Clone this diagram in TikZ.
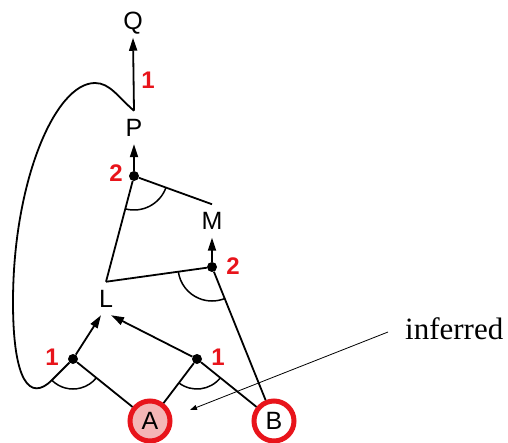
\documentclass[tikz,border=0pt]{standalone}
\usepackage{fontspec}
\setmainfont{Liberation Sans}
\newfontfamily\serifface{Liberation Serif}
\usepackage{tikz}
\usetikzlibrary{calc,arrows.meta}
\definecolor{hotred}{HTML}{E8141B}
\definecolor{blush}{HTML}{F4B6B6}
\newcommand{\Lbl}{\fontsize{25}{29}\selectfont}
\newcommand{\Num}{\fontsize{24}{28}\selectfont\bfseries}

\begin{document}
\begin{tikzpicture}[x=1pt,y=1pt,
    sym/.style={font=\Lbl, inner sep=0pt, outer sep=8pt, text height=17.5pt, text depth=0pt},
    lit/.style={circle, draw=hotred, line width=5pt, minimum size=40pt, inner sep=0pt, font=\Lbl},
    junc/.style={circle, fill=black, inner sep=0pt, minimum size=10pt},
    wt/.style={text=hotred, font=\Num, inner sep=0pt},
    wire/.style={line width=1.8pt},
    imp/.style={wire, -{Triangle[length=13pt,width=8pt]}},
    pointer/.style={line width=0.8pt, -{Triangle[length=7pt,width=5pt]}}]
  \useasboundingbox (0,0) rectangle (508,442);
  % atoms
  \node[sym] (Q) at (133,421) {Q};
  \node[sym] (P) at (134,314.5) {P};
  \node[sym] (M) at (212,221) {M};
  \node[sym] (L) at (106,143.5) {L};
  \node[lit, fill=blush] (A) at (150,21) {A};
  \node[lit, fill=white] (B) at (274,21) {B};
  % rule junctions
  \node[junc] (j1) at (73,83) {};
  \node[junc] (j2) at (197,83) {};
  \node[junc] (j3) at (212,175) {};
  \node[junc] (j4) at (134,266) {};
  % premises
  \draw[wire] (A) -- (j1);
  \draw[wire] (P.north) .. controls (118,345) and (110,359) .. (95,359)
    .. controls (55,359) and (13,260) .. (13,140)
    .. controls (13,60) and (30,40) .. (52,62) -- (j1);
  \draw[wire] (A) -- (j2);
  \draw[wire] (B) -- (j2);
  \draw[wire] (B) -- (j3);
  \draw[wire] (L.north) -- (j3);
  \draw[wire] (L.north) -- (j4);
  \draw[wire] (M.north) -- (j4);
  % conjunction arcs
  \foreach \j/\s/\e/\r in {j1/225/321/30, j2/233/321/30, j3/188/292/34, j4/255/340/34}
    \draw[line width=1.5pt] (\j) ++(\s:\r) arc[start angle=\s, end angle=\e, radius=\r];
  % conclusions
  \draw[imp] (j1) -- ([xshift=-5pt]L.south);
  \draw[imp] (j2) -- ([xshift=5pt]L.south);
  \draw[imp] (j3) -- (M.south);
  \draw[imp] (j4) -- (P.south);
  \draw[imp] (P.north) -- (Q.south);
  % weights
  \node[wt] (w1) at (148,362) {1};
  \node[wt] (w2) at (116,269) {2};
  \node[wt] (w3) at (233,176) {2};
  \node[wt] (w4) at (52,85) {1};
  \node[wt] (w5) at (218,85) {1};
  % note
  \node[font=\serifface\fontsize{31}{36}\selectfont, inner sep=0pt, anchor=west] (inf) at (405,113) {inferred};
  \coordinate (tip) at (190,32);
  \draw[pointer] ([xshift=-17pt,yshift=-3pt]inf.west) -- (tip);
\end{tikzpicture}
\end{document}
